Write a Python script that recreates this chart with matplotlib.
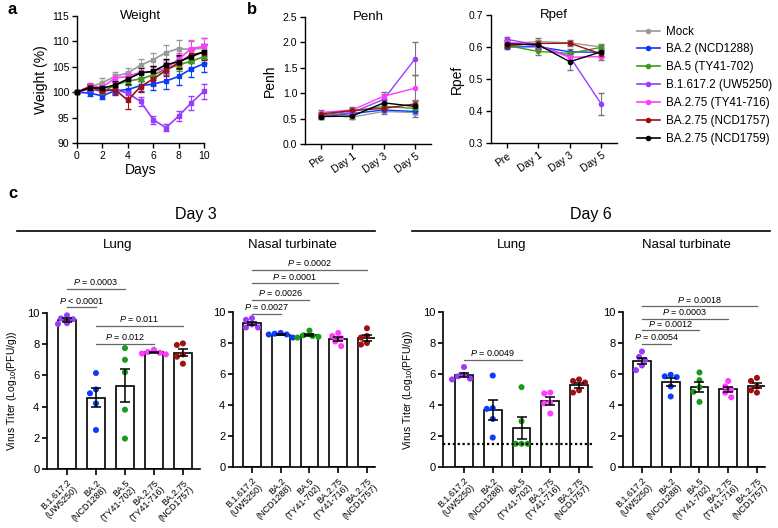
import numpy as np
import matplotlib
matplotlib.use("Agg")
import matplotlib.pyplot as plt

plt.rcParams['font.family'] = ['Liberation Sans', 'DejaVu Sans']
plt.rcParams['mathtext.fontset'] = 'custom'
plt.rcParams['mathtext.it'] = 'Liberation Sans:italic'
plt.rcParams['mathtext.rm'] = 'Liberation Sans'

W, H = 778, 528

# ---------------- data ----------------
groups = ["Mock", "BA.2 (NCD1288)", "BA.5 (TY41-702)", "B.1.617.2 (UW5250)",
          "BA.2.75 (TY41-716)", "BA.2.75 (NCD1757)", "BA.2.75 (NCD1759)"]
colors = ["#9a9a9a", "#0a3cff", "#3f9a1a", "#9a3cff", "#ff3cff", "#a01010", "#000000"]

days = [0, 1, 2, 3, 4, 5, 6, 7, 8, 9, 10]
weight = [
    [100, 101.0, 101.9, 103.1, 103.8, 105.3, 106.4, 107.8, 108.6, 108.4, 108.7],
    [100, 99.8, 99.3, 100.3, 100.5, 101.3, 101.6, 102.2, 103.1, 104.6, 105.6],
    [100, 100.7, 100.1, 101.4, 102.2, 102.6, 103.4, 104.5, 105.4, 106.1, 107.0],
    [100, 100.7, 100.2, 100.5, 99.8, 98.2, 94.6, 93.0, 95.3, 97.9, 100.2],
    [100, 101.2, 101.0, 102.8, 103.1, 103.9, 104.1, 104.7, 106.5, 108.6, 109.0],
    [100, 101.0, 100.3, 100.5, 98.4, 101.1, 102.6, 104.3, 105.8, 107.4, 107.8],
    [100, 100.9, 100.8, 101.4, 102.6, 103.8, 104.1, 105.4, 106.0, 107.0, 108.0],
]
weight_err = [
    [0, 0.6, 0.8, 0.9, 1.0, 1.2, 1.4, 1.5, 1.6, 1.8, 1.9],
    [0, 0.6, 0.7, 0.8, 0.9, 1.0, 1.2, 1.5, 1.6, 1.6, 1.6],
    [0, 0.5, 0.6, 0.7, 0.8, 0.9, 1.0, 1.1, 1.2, 1.3, 1.3],
    [0, 0.5, 0.6, 0.7, 0.8, 0.9, 0.8, 0.7, 1.0, 1.4, 1.5],
    [0, 0.6, 0.7, 0.8, 0.9, 1.0, 1.1, 1.2, 1.3, 1.5, 1.6],
    [0, 0.7, 0.8, 0.9, 1.7, 1.1, 1.2, 1.2, 1.3, 1.3, 1.4],
    [0, 0.6, 0.7, 0.8, 0.9, 1.0, 1.1, 1.2, 1.3, 1.3, 1.4],
]

resp_days = ["Pre", "Day 1", "Day 3", "Day 5"]
penh = [
    [0.57, 0.53, 0.64, 0.62],
    [0.55, 0.60, 0.67, 0.64],
    [0.57, 0.65, 0.74, 0.70],
    [0.54, 0.62, 0.88, 1.68],
    [0.62, 0.67, 0.94, 1.10],
    [0.59, 0.66, 0.70, 0.79],
    [0.54, 0.55, 0.81, 0.74],
]
penh_err = [
    [0.04, 0.04, 0.05, 0.09],
    [0.03, 0.04, 0.04, 0.05],
    [0.03, 0.04, 0.04, 0.06],
    [0.04, 0.05, 0.10, 0.33],
    [0.04, 0.05, 0.08, 0.26],
    [0.04, 0.05, 0.05, 0.07],
    [0.04, 0.06, 0.05, 0.10],
]
rpef = [
    [0.610, 0.617, 0.613, 0.600],
    [0.600, 0.601, 0.585, 0.583],
    [0.605, 0.586, 0.580, 0.599],
    [0.624, 0.606, 0.570, 0.422],
    [0.615, 0.603, 0.568, 0.570],
    [0.604, 0.611, 0.612, 0.578],
    [0.610, 0.607, 0.554, 0.585],
]
rpef_err = [
    [0.010, 0.010, 0.008, 0.010],
    [0.006, 0.008, 0.008, 0.010],
    [0.006, 0.010, 0.008, 0.008],
    [0.006, 0.010, 0.010, 0.034],
    [0.006, 0.010, 0.010, 0.010],
    [0.006, 0.008, 0.008, 0.010],
    [0.010, 0.015, 0.025, 0.012],
]

virus_labels = ["B.1.617.2\n(UW5250)", "BA.2\n(NCD1288)", "BA.5\n(TY41-702)",
                "BA.2.75\n(TY41-716)", "BA.2.75\n(NCD1757)"]
virus_colors = ["#9a3cff", "#0a3cff", "#1a9a1a", "#ff3cff", "#a01010"]

d3_lung = [
    [9.85, 9.65, 9.6, 9.35, 9.3],
    [6.15, 5.1, 4.85, 4.2, 2.5],
    [7.75, 7.0, 6.2, 3.8, 1.95],
    [7.65, 7.5, 7.45, 7.4, 7.35],
    [8.05, 7.95, 7.35, 7.2, 6.75],
]
d3_nasal = [
    [9.6, 9.5, 9.2, 9.0, 9.0],
    [8.65, 8.6, 8.55, 8.55, 8.35],
    [8.8, 8.5, 8.45, 8.4, 8.35],
    [8.65, 8.45, 8.3, 8.1, 7.8],
    [8.95, 8.45, 8.35, 8.0, 7.9],
]
d6_lung = [
    [6.45, 5.95, 5.85, 5.7, 5.65],
    [5.9, 3.8, 3.75, 3.1, 1.9],
    [5.15, 2.95, 1.5, 1.5, 1.5],
    [4.8, 4.75, 4.15, 4.1, 3.45],
    [5.65, 5.55, 5.45, 4.95, 4.8],
]
d6_nasal = [
    [7.45, 7.1, 6.9, 6.55, 6.25],
    [5.95, 5.85, 5.8, 5.2, 4.55],
    [6.1, 5.6, 5.15, 4.85, 4.2],
    [5.55, 5.2, 5.0, 4.8, 4.5],
    [5.75, 5.55, 5.2, 4.95, 4.8],
]
lod = 1.5

# (first bar, second bar, height, label)
d3_lung_p = [(0, 1, 10.38, "$P$ < 0.0001"), (0, 2, 11.56, "$P$ = 0.0003"),
             (1, 4, 9.19, "$P$ = 0.011"), (1, 3, 8.03, "$P$ = 0.012")]
d3_nasal_p = [(0, 1, 9.87, "$P$ = 0.0027"), (0, 2, 10.8, "$P$ = 0.0026"),
              (0, 3, 11.84, "$P$ = 0.0001"), (0, 4, 12.74, "$P$ = 0.0002")]
d6_lung_p = [(0, 2, 6.91, "$P$ = 0.0049")]
d6_nasal_p = [(0, 1, 7.95, "$P$ = 0.0054"), (0, 2, 8.83, "$P$ = 0.0012"),
              (0, 3, 9.55, "$P$ = 0.0003"), (0, 4, 10.37, "$P$ = 0.0018")]


def px_rect(left, top, right, bottom):
    return [left / W, 1 - bottom / H, (right - left) / W, (bottom - top) / H]


def style(ax, lw=1.0):
    for s in ("top", "right"):
        ax.spines[s].set_visible(False)
    for s in ("left", "bottom"):
        ax.spines[s].set_linewidth(lw)
    ax.tick_params(width=lw, length=3.5, labelsize=7.5, pad=2)


fig = plt.figure(figsize=(W / 100, H / 100), dpi=100)

# ---------------- a: weight ----------------
ax = fig.add_axes(px_rect(77, 16, 204, 143))
for vals, err, c in zip(weight, weight_err, colors):
    ax.errorbar(days, vals, yerr=err, color=c, lw=1.2, marker="s", ms=3.2,
                ecolor=c, elinewidth=0.7, capsize=2, clip_on=False)
ax.set_xlim(0, 10)
ax.set_ylim(90, 115)
ax.set_xticks([0, 2, 4, 6, 8, 10])
ax.set_yticks([90, 95, 100, 105, 110, 115])
ax.set_xlabel("Days", fontsize=10, labelpad=2)
ax.set_ylabel("Weight (%)", fontsize=10, labelpad=3)
ax.text(0.5, 1.0, "Weight", transform=ax.transAxes, ha="center", va="center", fontsize=9.5)
style(ax)

# ---------------- b: penh / rpef ----------------
for rect, data, err, ylim, yt, name in [
        ((305, 17, 431, 144), penh, penh_err, (0, 2.5), [0, 0.5, 1.0, 1.5, 2.0, 2.5], "Penh"),
        ((491, 15, 617, 143), rpef, rpef_err, (0.3, 0.7), [0.3, 0.4, 0.5, 0.6, 0.7], "Rpef")]:
    ax = fig.add_axes(px_rect(*rect))
    x = np.arange(len(resp_days))
    for vals, e, c in zip(data, err, colors):
        ax.errorbar(x, vals, yerr=e, color=c, lw=1.0, marker="o", ms=3,
                    ecolor="#777777", elinewidth=0.8, capsize=2)
    ax.set_xlim(-0.5, 3.5)
    ax.set_ylim(*ylim)
    ax.set_yticks(yt)
    ax.set_yticklabels([f"{v:.1f}" for v in yt])
    ax.set_xticks(x)
    ax.set_xticklabels(resp_days, rotation=35, ha="right", rotation_mode="anchor")
    ax.set_ylabel(name, fontsize=10, labelpad=4)
    ax.text(0.5, 1.0, name, transform=ax.transAxes, ha="center", va="center", fontsize=9.5)
    style(ax)

handles = [plt.Line2D([], [], color=c, marker="o", ms=3, lw=1.2) for c in colors]
fig.legend(handles, groups, loc="upper left", bbox_to_anchor=(632 / W, 1 - 21 / H),
           frameon=False, fontsize=8.4, handlelength=2.0, handletextpad=0.55,
           labelspacing=0.5, borderaxespad=0)


# ---------------- c: virus titers ----------------
def swarm(vals, xscale, yscale, d=6.0):
    order = np.argsort(vals)[::-1]
    placed = []
    offs = np.zeros(len(vals))
    cands = [0]
    for k in range(1, 8):
        cands += [-k * 0.5, k * 0.5]
    for k in order:
        v = vals[k] * yscale
        for c in cands:
            cx = c * d
            if all(np.hypot(cx - px_, v - py_) >= d - 0.1 for px_, py_ in placed):
                break
        placed.append((cx, v))
        offs[k] = cx / xscale
    return offs


def bar_panel(rect, xlim, data, pvals, ylabel=False, dotted=False):
    ax = fig.add_axes(px_rect(*rect))
    l, t, r, b = rect
    xscale = (r - l) / (xlim[1] - xlim[0])
    yscale = (b - t) / 10
    for i, (vals, c) in enumerate(zip(data, virus_colors)):
        vals = np.array(vals)
        m = vals.mean()
        sem = vals.std(ddof=1) / np.sqrt(len(vals))
        ax.bar(i, m, width=0.62, color="white", edgecolor="black", lw=1.2, zorder=1)
        ax.scatter(i + swarm(vals, xscale, yscale), vals, s=19, color=c,
                   edgecolor="none", zorder=2, clip_on=False)
        ax.errorbar(i, m, yerr=sem, color="black", capsize=3.5, elinewidth=1.1,
                    capthick=1.1, zorder=3)
    for i, j, y, txt in pvals:
        ax.plot([i, j], [y, y], color="#666666", lw=0.9, clip_on=False)
        ax.text((i + j) / 2, y + 0.1, txt, ha="center", va="bottom", fontsize=6.5)
    if dotted:
        ax.axhline(lod, color="black", ls=(0, (1, 1.2)), lw=1.6, zorder=4, clip_on=False)
    ax.set_xlim(*xlim)
    ax.set_ylim(0, 10)
    ax.set_yticks([0, 2, 4, 6, 8, 10])
    ax.set_xticks(range(len(virus_labels)))
    ax.set_xticklabels(virus_labels, rotation=45, ha="right", rotation_mode="anchor",
                       fontsize=6.5, linespacing=1.0)
    if ylabel:
        ax.set_ylabel("Virus Titer (Log$_{10}$(PFU/g))", fontsize=7.5, labelpad=6)
    style(ax, 1.2)
    ax.tick_params(labelsize=8)
    ax.tick_params(axis="x", labelsize=6.5, length=4.5)
    return ax


bar_panel((47, 313, 200, 469), (-0.69, 4.59), d3_lung, d3_lung_p, ylabel=True)
bar_panel((233, 312, 375, 467), (-0.66, 4.28), d3_nasal, d3_nasal_p)
bar_panel((443, 312, 592, 467), (-0.73, 4.45), d6_lung, d6_lung_p, ylabel=True, dotted=True)
bar_panel((623, 312, 765, 467), (-0.66, 4.28), d6_nasal, d6_nasal_p)

# headers
for x0, x1, cx, txt in [(17, 375, 196, "Day 3"), (412, 770, 591, "Day 6")]:
    fig.add_artist(plt.Line2D([x0 / W, x1 / W], [1 - 231 / H] * 2, color="black", lw=1.2))
    fig.text(cx / W, 1 - 215 / H, txt, ha="center", va="center", fontsize=11.5)
for cx, txt in [(118, "Lung"), (292, "Nasal turbinate"), (512, "Lung"), (686, "Nasal turbinate")]:
    fig.text(cx / W, 1 - 245 / H, txt, ha="center", va="center", fontsize=9.5)

for x, y, s in [(8, 9, "a"), (247, 9, "b"), (8, 193, "c")]:
    fig.text(x / W, 1 - y / H, s, ha="left", va="center", fontsize=12, fontweight="bold")

fig.savefig("out.png", dpi=100)
